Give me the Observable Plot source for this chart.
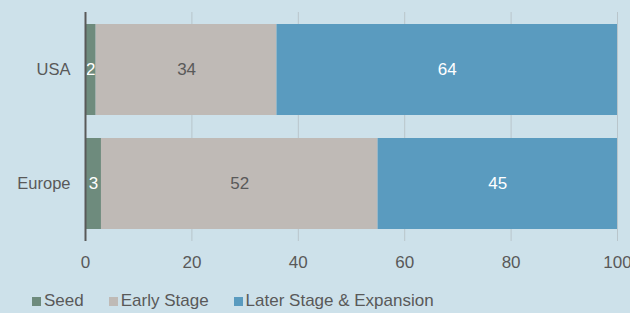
<!DOCTYPE html>
<html>
<head>
<meta charset="utf-8">
<script src="https://cdn.jsdelivr.net/npm/d3@7"></script>
<script src="https://cdn.jsdelivr.net/npm/@observablehq/plot@0.6"></script>
<style>
  html, body { margin: 0; padding: 0; background: #cde1ea; }
  #chart { width: 630px; height: 313px; background: #cde1ea; font-family: "Liberation Sans", Arial, sans-serif; color: #595959; overflow: hidden; }
  .legend { display: flex; align-items: center; padding-left: 32px; padding-top: 9px; height: 24px; line-height: 24px; font-size: 17px; color: #595959; }
  .legend .item { display: flex; align-items: center; margin-right: 25px; }
  .legend .sw { width: 9px; height: 9px; margin-right: 3px; }
</style>
</head>
<body>
<div id="chart"></div>
<script>
const categories = ["USA", "Europe"];
const stages = ["Seed", "Early Stage", "Later Stage & Expansion"];
const seedValues = [2, 3];
const earlyValues = [34, 52];
const laterValues = [64, 45];
const xTicks = [0, 20, 40, 60, 80, 100];
const colors = ["#6e8b7d", "#bfbab6", "#5a9bbf"];

const series = [seedValues, earlyValues, laterValues];
const data = [];
categories.forEach((c, i) => {
  stages.forEach((s, j) => data.push({ region: c, stage: s, value: series[j][i] }));
});

const plot = Plot.plot({
  width: 630,
  height: 280,
  marginTop: 12,
  marginBottom: 39,
  marginLeft: 85,
  marginRight: 13,
  style: { background: "#cde1ea", fontFamily: "Liberation Sans, Arial, sans-serif", fontSize: "17px", color: "#595959", overflow: "visible" },
  x: { domain: [0, 100], ticks: xTicks },
  y: { domain: categories, paddingInner: 0.2, paddingOuter: 0.1 },
  color: { domain: stages, range: colors },
  marks: [
    Plot.gridX(xTicks, { stroke: "#b9c5cb", strokeOpacity: 1, strokeWidth: 1 }),
    Plot.barX(data, Plot.stackX({ x: "value", y: "region", fill: "stage" })),
    Plot.text(data, Plot.stackX({ x: "value", y: "region", z: "stage", text: d => String(d.value),
      fill: d => d.stage === "Early Stage" ? "#595959" : "#ffffff", fontSize: 17 })),
    Plot.ruleX([0], { stroke: "#595959", strokeWidth: 2 }),
    Plot.axisX(xTicks, { tickSize: 0, tickPadding: 14, fontSize: 17, fill: "#595959", label: null }),
    Plot.axisY({ tickSize: 0, tickPadding: 15, fontSize: 16.5, fill: "#595959", label: null })
  ]
});

const root = document.getElementById("chart");
root.appendChild(plot);

const scale = plot.scale("color");
const legend = document.createElement("div");
legend.className = "legend";
scale.domain.forEach((s, i) => {
  const item = document.createElement("div");
  item.className = "item";
  const sw = document.createElement("span");
  sw.className = "sw";
  sw.style.background = scale.range[i];
  const t = document.createElement("span");
  t.textContent = s;
  item.appendChild(sw);
  item.appendChild(t);
  legend.appendChild(item);
});
root.appendChild(legend);
</script>
</body>
</html>
